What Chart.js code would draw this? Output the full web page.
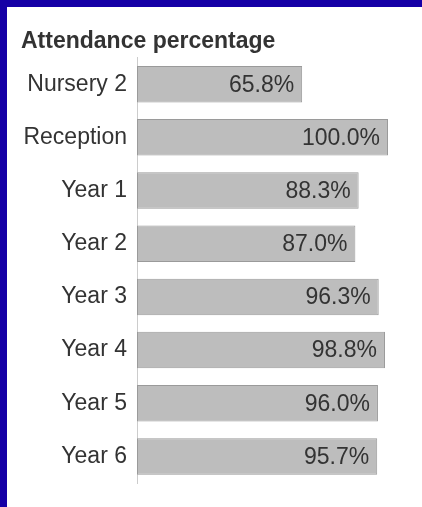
<!DOCTYPE html>
<html lang="en">
<head>
    <meta charset="UTF-8">
    <title>Attendance percentage</title>
    <script src="https://cdn.jsdelivr.net/npm/chart.js"></script>
    <style>
        html, body { margin: 0; padding: 0; background: #FFFFFF; }
        body {
            width: 415px; height: 500px;
            border-top: 7px solid #1500a6;
            border-left: 7px solid #1500a6;
            overflow: hidden;
        }
        .chart-wrapper { position: relative; width: 415px; height: 500px; }
    </style>
</head>
<body>
    <div class="chart-wrapper">
        <canvas id="attendanceChart"></canvas>
    </div>

    <script>
        // chart data
        const categories = ["Nursery 2", "Reception", "Year 1", "Year 2", "Year 3", "Year 4", "Year 5", "Year 6"];
        const attendance = [65.8, 100.0, 88.3, 87.0, 96.3, 98.8, 96.0, 95.7];

        const FONT = "'Liberation Sans', Arial, sans-serif";
        const TEXT = '#333333';

        // writes the value inside the right end of each bar
        const valueLabels = {
            id: 'valueLabels',
            afterDatasetsDraw(chart) {
                const ctx = chart.ctx;
                const meta = chart.getDatasetMeta(0);
                ctx.save();
                ctx.font = '23px ' + FONT;
                ctx.fillStyle = TEXT;
                ctx.textAlign = 'right';
                ctx.textBaseline = 'middle';
                meta.data.forEach((bar, i) => {
                    ctx.fillText(attendance[i].toFixed(1) + '%', bar.x - 8, bar.y + 1);
                });
                ctx.restore();
            }
        };

        new Chart(document.getElementById('attendanceChart'), {
            type: 'bar',
            data: {
                labels: categories,
                datasets: [{
                    data: attendance,
                    backgroundColor: '#bdbdbd',
                    borderColor: '#9a9a9a',
                    borderWidth: 1,
                    borderSkipped: false,
                    categoryPercentage: 1,
                    barPercentage: 0.686
                }]
            },
            options: {
                indexAxis: 'y',
                responsive: true,
                maintainAspectRatio: false,
                animation: false,
                layout: { padding: { left: 14, right: 34, top: 0, bottom: 24 } },
                scales: {
                    x: {
                        display: false,
                        min: 0,
                        max: 100
                    },
                    y: {
                        grid: { display: false, drawTicks: false },
                        // axis line broken into one short segment per row
                        border: { display: true, color: '#cccccc', width: 1, dash: [49.2, 4], dashOffset: 51.2 },
                        ticks: {
                            color: TEXT,
                            font: { family: FONT, size: 23 },
                            padding: 10,
                            crossAlign: 'near'
                        },
                        afterFit: (scale) => { scale.width = 116; }
                    }
                },
                plugins: {
                    legend: { display: false },
                    tooltip: { enabled: false },
                    title: {
                        display: true,
                        text: 'Attendance percentage',
                        align: 'start',
                        color: TEXT,
                        font: { family: FONT, size: 23, weight: 'bold', lineHeight: 1.2 },
                        padding: { top: 21, bottom: 2 }
                    }
                }
            },
            plugins: [valueLabels]
        });
    </script>
</body>
</html>
